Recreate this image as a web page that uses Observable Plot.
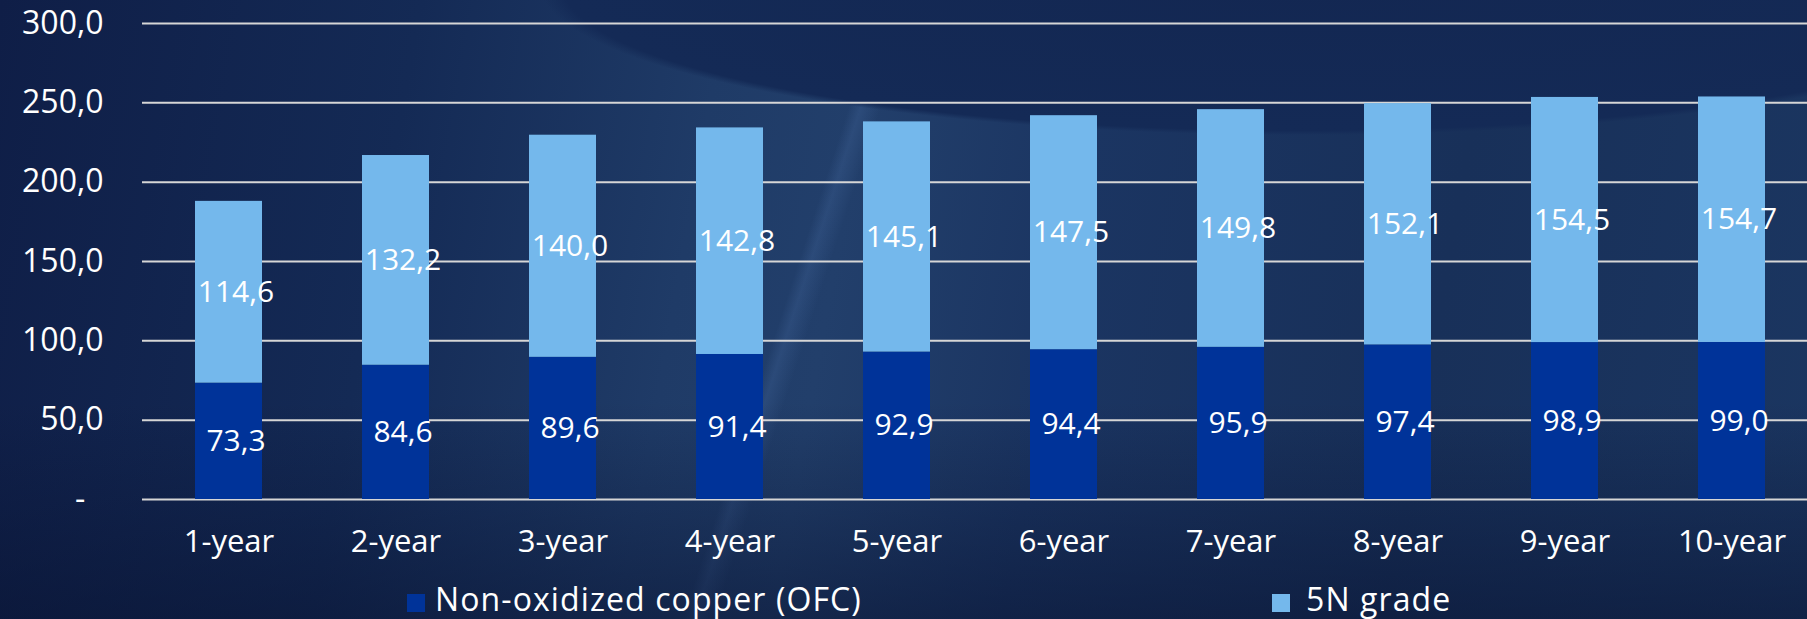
<!DOCTYPE html>
<html>
<head>
<meta charset="utf-8">
<script src="https://cdn.jsdelivr.net/npm/d3@7"></script>
<script src="https://cdn.jsdelivr.net/npm/@observablehq/plot@0.6"></script>
<style>
  html, body { margin: 0; padding: 0; }
  body {
    width: 1807px; height: 619px; overflow: hidden; position: relative;
    font-family: "Open Sans", sans-serif; color: #ffffff;
    background:
      linear-gradient(to top, rgba(8,18,48,0.55) 0%, rgba(8,18,48,0) 35%),
      radial-gradient(ellipse 760px 150px at 1300px -15px, #132752 0%, #142a56 97%, rgba(20,42,86,0) 100%),
      linear-gradient(108deg, rgba(0,0,0,0) 44%, rgba(90,130,190,0.18) 44.6%, rgba(0,0,0,0) 45.6%),
      linear-gradient(100deg, #0f1e47 0%, #142a55 22%, #1f3b67 38%, #223f6b 46%, #1b3562 58%, #183059 78%, #1b3661 100%);
  }
  #chart { position: absolute; left: 0; top: 0; }
  .swatch { position: absolute; top: 594px; width: 18px; height: 18px; }
  .legend-text { position: absolute; top: 583px; font-size: 32px; line-height: 32px; letter-spacing: 1.1px; white-space: nowrap; }
</style>
</head>
<body>
<div id="chart"></div>
<div class="swatch" style="left:407px; background:#003399"></div>
<div class="legend-text" id="lg0" style="left:435px"></div>
<div class="swatch" style="left:1272px; background:#74b8ec"></div>
<div class="legend-text" id="lg1" style="left:1306px"></div>
<script>
const years = ["1-year", "2-year", "3-year", "4-year", "5-year", "6-year", "7-year", "8-year", "9-year", "10-year"];
const seriesNames = ["Non-oxidized copper (OFC)", "5N grade"];
const ofcValues = [73.3, 84.6, 89.6, 91.4, 92.9, 94.4, 95.9, 97.4, 98.9, 99.0];
const fiveNValues = [114.6, 132.2, 140.0, 142.8, 145.1, 147.5, 149.8, 152.1, 154.5, 154.7];
const seriesColors = ["#003399", "#74b8ec"];
const yTicks = [0, 50, 100, 150, 200, 250, 300];

const rows = [];
years.forEach((y, i) => rows.push({year: y, series: seriesNames[0], value: ofcValues[i]}));
years.forEach((y, i) => rows.push({year: y, series: seriesNames[1], value: fiveNValues[i]}));

const fmt = v => v.toFixed(1).replace(".", ",");

const chart = Plot.plot({
  width: 1807,
  height: 570,
  marginLeft: 142,
  marginRight: 0,
  marginTop: 23,
  marginBottom: 71,
  style: {background: "transparent", fontFamily: "'Open Sans', sans-serif", fontSize: "30px", color: "#ffffff", overflow: "visible"},
  x: {domain: years, paddingInner: 0.6, paddingOuter: 0.3, range: [142.4, 1817.4], label: null},
  y: {domain: [0, 300], label: null},
  color: {domain: seriesNames, range: seriesColors},
  marks: [
    Plot.ruleY(yTicks, {stroke: "#d6d6d6", strokeWidth: 2}),
    Plot.barY(rows, {x: "year", y: "value", fill: "series", order: null}),
    Plot.text(rows, Plot.stackY({x: "year", y: "value", z: "series", order: null, text: d => fmt(d.value), fill: "#ffffff", dx: 7, fontSize: 30})),
    Plot.axisY({ticks: yTicks, tickSize: 0, tickPadding: 39, tickFormat: d => d === 0 ? "-\u2007" : fmt(d), label: null, fontSize: 32}),
    Plot.axisX({tickSize: 0, tickPadding: 30, label: null, fontSize: 31})
  ]
});
document.getElementById("chart").appendChild(chart);
document.getElementById("lg0").textContent = seriesNames[0];
document.getElementById("lg1").textContent = seriesNames[1];
</script>
</body>
</html>
